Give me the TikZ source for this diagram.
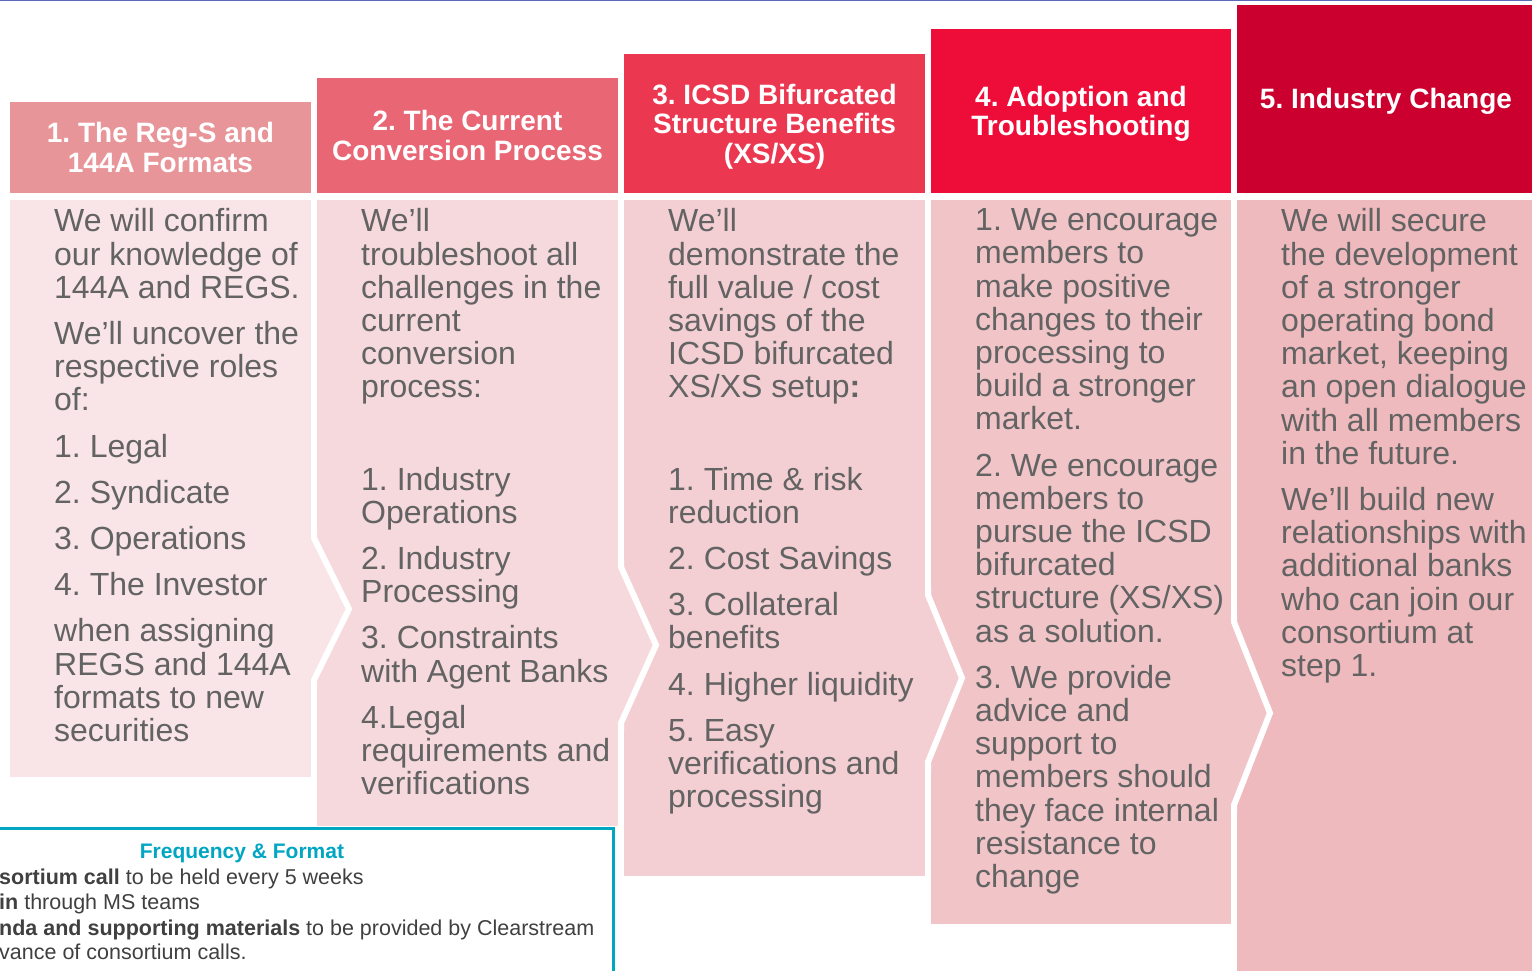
\documentclass[tikz,border=0pt]{standalone}
\usepackage{fontspec}
\setmainfont{Liberation Sans}

\definecolor{headA}{HTML}{E8959A}
\definecolor{headB}{HTML}{E96674}
\definecolor{headC}{HTML}{EC3751}
\definecolor{headD}{HTML}{EE0C38}
\definecolor{headE}{HTML}{CB002F}
\definecolor{bodyA}{HTML}{F9E5E7}
\definecolor{bodyB}{HTML}{F6D9DC}
\definecolor{bodyC}{HTML}{F3CFD3}
\definecolor{bodyD}{HTML}{F1C5C8}
\definecolor{bodyE}{HTML}{EFBABD}
\definecolor{txtgray}{HTML}{636363}
\definecolor{infogray}{HTML}{404040}
\definecolor{teal}{HTML}{00A6C2}
\definecolor{slideblue}{HTML}{5A6AB8}

\begin{document}
\frenchspacing
\begin{tikzpicture}[x=1pt,y=-1pt,
  head/.style={inner sep=0, align=center, text=white,
    font=\fontsize{28}{29.5}\selectfont\bfseries},
  steptext/.style={anchor=north west, inner sep=0, align=left, text=txtgray,
    font=\fontsize{32}{33.2}\selectfont},
  gapline/.style={white, line width=6pt, line join=miter},
  infoline/.style={anchor=base west, inner sep=0, text=infogray,
    font=\fontsize{21.5}{25}\selectfont}]

\useasboundingbox (0,0) rectangle (1532,970);
\clip (0,0) rectangle (1532,970);

%% slide edge
\draw[slideblue, line width=1.2pt] (0,0.6) -- (1532,0.6);

%% header boxes
\fill[headA] (10,102)  rectangle (311,193);
\fill[headB] (317,78)  rectangle (618,193);
\fill[headC] (624,54)  rectangle (925,193);
\fill[headD] (931,29)  rectangle (1231,193);
\fill[headE] (1237,5)  rectangle (1540,193);

%% header titles
\node[head] (hdA) at (160.5,147.5) {1. The Reg-S and\\144A Formats};
\node[head] (hdB) at (467.5,135.5) {2. The Current\\Conversion Process};
\node[head] (hdC) at (774.5,126.5) {3. ICSD Bifurcated\\Structure Benefits\\(XS/XS)};
\node[head] (hdD) at (1081,114)    {4. Adoption and\\Troubleshooting};
\node[head] (hdE) at (1386,101)    {5. Industry Change};

%% step bodies
\fill[bodyA] (10,200)   rectangle (311,777);
\fill[bodyB] (317,200)  rectangle (618,826);
\fill[bodyC] (624,200)  rectangle (925,876);
\fill[bodyD] (931,200)  rectangle (1231,924);
\fill[bodyE] (1237,200) rectangle (1540,980);

%% chevrons between the steps
\fill[bodyA] (308,538) -- (314,538) -- (349,609) -- (314,680) -- (308,680) -- cycle;
\fill[bodyB] (615,567) -- (621,567) -- (656,645) -- (621,723) -- (615,723) -- cycle;
\fill[bodyC] (922,595) -- (928,595) -- (962,678) -- (928,762) -- (922,762) -- cycle;
\fill[bodyD] (1228,622) -- (1234,622) -- (1270,713) -- (1234,805) -- (1228,805) -- cycle;

\draw[gapline] (314,530) -- (314,538) -- (349,609) -- (314,680) -- (314,688);
\draw[gapline] (621,559) -- (621,567) -- (656,645) -- (621,723) -- (621,731);
\draw[gapline] (928,587) -- (928,595) -- (962,678) -- (928,762) -- (928,770);
\draw[gapline] (1234,614) -- (1234,622) -- (1270,713) -- (1234,805) -- (1234,813);

%% step texts
\node[steptext] (txA) at (54,208.5) {We will confirm\\our knowledge of\\144A and REGS.\\[13pt]%
We’ll uncover the\\respective roles\\of:\\[13pt]%
1. Legal\\[13pt]2. Syndicate\\[13pt]3. Operations\\[13pt]4. The Investor\\[13pt]%
when assigning\\REGS and 144A\\formats to new\\securities};

\node[steptext] (txB) at (361,208.5) {We’ll\\troubleshoot all\\challenges in the\\current\\conversion\\process:\\[59pt]%
1. Industry\\Operations\\[13pt]2. Industry\\Processing\\[13pt]%
3. Constraints\\with Agent Banks\\[13pt]4.Legal\\requirements and\\verifications};

\node[steptext] (txC) at (668,208.5) {We’ll\\demonstrate the\\full value / cost\\savings of the\\ICSD bifurcated\\XS/XS setup\textbf{:}\\[59pt]%
1. Time \& risk\\reduction\\[13pt]2. Cost Savings\\[13pt]3. Collateral\\benefits\\[13pt]%
4. Higher liquidity\\[13pt]5. Easy\\verifications and\\processing};

\node[steptext] (txD) at (975,208.5) {1. We encourage\\members to\\make positive\\changes to their\\processing to\\build a stronger\\market.\\[13pt]%
2. We encourage\\members to\\pursue the ICSD\\bifurcated\\structure (XS/XS)\\as a solution.\\[13pt]%
3. We provide\\advice and\\support to\\members should\\they face internal\\resistance to\\change};

\node[steptext] (txE) at (1281,208.5) {We will secure\\the development\\of a stronger\\operating bond\\market, keeping\\an open dialogue\\with all members\\in the future.\\[13pt]%
We’ll build new\\relationships with\\additional banks\\who can join our\\consortium at\\step 1.};

%% frequency box
\draw[teal, fill=white, line width=3pt] (-10,828) rectangle (613,990);
\node[anchor=base, inner sep=0, text=teal, font=\fontsize{21}{25}\selectfont\bfseries] (freq) at (242,858) {Frequency \& Format};
\node[infoline] (callA) at (-1,884) {\textbf{sortium call} to be held every 5 weeks};
\node[infoline] (callB) at (-1,909.5) {\textbf{in} through MS teams};
\node[infoline] (callC) at (-1,935) {\textbf{nda and supporting materials} to be provided by Clearstream};
\node[infoline] (callD) at (-1,959.5) {vance of consortium calls.};

\end{tikzpicture}
\end{document}
